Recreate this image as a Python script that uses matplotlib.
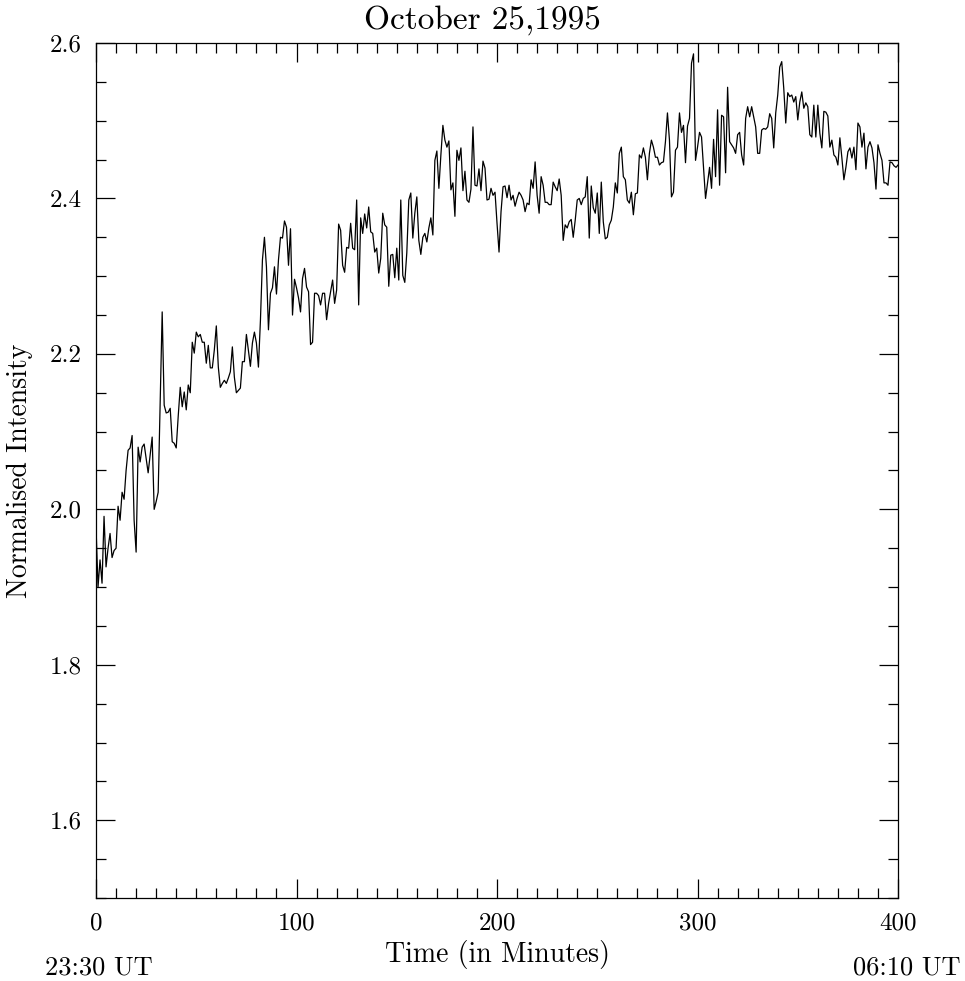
#!/usr/bin/env python3

import numpy as np
import matplotlib
matplotlib.use('Agg')
import matplotlib.pyplot as plt
from matplotlib.ticker import MultipleLocator, FormatStrFormatter

# normalised intensity, one sample per minute from 23:30 UT
intensity = [
    1.977, 1.900, 1.935, 1.905, 1.991, 1.926, 1.950, 1.969, 1.938, 1.947,
    1.950, 2.004, 1.986, 2.022, 2.013, 2.050, 2.076, 2.079, 2.095, 1.986,
    1.945, 2.080, 2.061, 2.080, 2.084, 2.065, 2.047, 2.070, 2.093, 2.000,
    2.010, 2.022, 2.140, 2.254, 2.134, 2.124, 2.125, 2.130, 2.087, 2.085,
    2.079, 2.120, 2.157, 2.132, 2.151, 2.128, 2.160, 2.150, 2.215, 2.201,
    2.228, 2.222, 2.225, 2.215, 2.215, 2.188, 2.211, 2.182, 2.182, 2.205,
    2.236, 2.183, 2.157, 2.162, 2.166, 2.162, 2.169, 2.177, 2.209, 2.170,
    2.150, 2.153, 2.156, 2.190, 2.190, 2.225, 2.205, 2.184, 2.214, 2.228,
    2.214, 2.183, 2.243, 2.321, 2.350, 2.312, 2.231, 2.278, 2.285, 2.312,
    2.277, 2.321, 2.350, 2.349, 2.371, 2.363, 2.314, 2.361, 2.250, 2.296,
    2.285, 2.272, 2.254, 2.297, 2.310, 2.286, 2.280, 2.212, 2.215, 2.278,
    2.278, 2.275, 2.263, 2.278, 2.278, 2.244, 2.265, 2.280, 2.295, 2.265,
    2.282, 2.367, 2.359, 2.314, 2.305, 2.337, 2.336, 2.368, 2.336, 2.334,
    2.398, 2.263, 2.375, 2.355, 2.380, 2.362, 2.389, 2.357, 2.355, 2.331,
    2.336, 2.304, 2.323, 2.381, 2.366, 2.363, 2.287, 2.327, 2.328, 2.298,
    2.336, 2.295, 2.398, 2.301, 2.292, 2.330, 2.398, 2.407, 2.349, 2.381,
    2.402, 2.346, 2.328, 2.350, 2.355, 2.344, 2.362, 2.375, 2.353, 2.449,
    2.461, 2.413, 2.456, 2.494, 2.475, 2.466, 2.474, 2.411, 2.420, 2.377,
    2.462, 2.449, 2.465, 2.410, 2.435, 2.398, 2.395, 2.412, 2.492, 2.417,
    2.416, 2.438, 2.410, 2.448, 2.439, 2.398, 2.399, 2.413, 2.404, 2.408,
    2.368, 2.331, 2.383, 2.415, 2.416, 2.401, 2.417, 2.398, 2.404, 2.390,
    2.400, 2.408, 2.404, 2.398, 2.383, 2.394, 2.392, 2.424, 2.413, 2.447,
    2.404, 2.381, 2.428, 2.417, 2.395, 2.395, 2.392, 2.392, 2.421, 2.415,
    2.410, 2.425, 2.404, 2.346, 2.366, 2.362, 2.370, 2.373, 2.350, 2.372,
    2.398, 2.400, 2.392, 2.400, 2.402, 2.428, 2.349, 2.416, 2.388, 2.381,
    2.407, 2.355, 2.421, 2.370, 2.348, 2.350, 2.366, 2.372, 2.389, 2.420,
    2.407, 2.458, 2.466, 2.428, 2.424, 2.398, 2.394, 2.408, 2.379, 2.406,
    2.407, 2.456, 2.452, 2.465, 2.453, 2.424, 2.458, 2.475, 2.466, 2.453,
    2.453, 2.443, 2.446, 2.447, 2.473, 2.510, 2.475, 2.402, 2.408, 2.462,
    2.466, 2.510, 2.485, 2.494, 2.446, 2.493, 2.503, 2.574, 2.586, 2.449,
    2.466, 2.485, 2.479, 2.440, 2.400, 2.420, 2.440, 2.413, 2.476, 2.428,
    2.514, 2.417, 2.507, 2.505, 2.433, 2.543, 2.473, 2.469, 2.465, 2.458,
    2.482, 2.485, 2.456, 2.443, 2.503, 2.518, 2.505, 2.518, 2.505, 2.492,
    2.458, 2.458, 2.488, 2.490, 2.489, 2.492, 2.509, 2.503, 2.465, 2.510,
    2.533, 2.569, 2.576, 2.542, 2.497, 2.536, 2.531, 2.533, 2.524, 2.531,
    2.501, 2.524, 2.537, 2.516, 2.523, 2.518, 2.482, 2.479, 2.520, 2.479,
    2.520, 2.484, 2.465, 2.512, 2.511, 2.506, 2.466, 2.475, 2.456, 2.453,
    2.443, 2.478, 2.452, 2.424, 2.440, 2.460, 2.465, 2.452, 2.466, 2.437,
    2.497, 2.492, 2.466, 2.484, 2.438, 2.466, 2.473, 2.465, 2.446, 2.412,
    2.469, 2.458, 2.449, 2.420, 2.420, 2.417, 2.447, 2.446, 2.442, 2.440,
    2.443,
]
minutes = np.arange(len(intensity))

title = 'October 25,1995'
start_label = '23:30 UT'
end_label = '06:10 UT'

plt.rcParams['font.family'] = ['cmr10', 'DejaVu Serif']
plt.rcParams['axes.formatter.use_mathtext'] = True


def main():
    fig = plt.figure(figsize=(9.65, 9.81), dpi=100)
    ax = fig.add_axes([0.0995, 0.0846, 0.8311, 0.8716])

    ax.plot(minutes, intensity, color='black', lw=0.9)

    ax.set_xlim(0, 400)
    ax.set_ylim(1.5, 2.6)
    ax.xaxis.set_major_locator(MultipleLocator(100))
    ax.xaxis.set_minor_locator(MultipleLocator(10))
    ax.yaxis.set_major_locator(MultipleLocator(0.2))
    ax.yaxis.set_minor_locator(MultipleLocator(0.05))
    ax.yaxis.set_major_formatter(FormatStrFormatter('%.1f'))
    ax.xaxis.set_major_formatter(FormatStrFormatter('%d'))

    ax.tick_params(which='both', direction='in', top=True, right=True,
                   width=0.9, labelsize=18)
    ax.tick_params(which='major', length=14, pad=10)
    ax.tick_params(which='minor', length=7)
    for sp in ax.spines.values():
        sp.set_linewidth(0.9)

    ax.set_xlabel('Time (in Minutes)', fontsize=20, labelpad=4)
    ax.set_ylabel('Normalised Intensity', fontsize=20, labelpad=12)
    fig.text(0.5, 0.9796, title, ha='center', va='center', fontsize=24)
    fig.text(0.047, 0.0133, start_label, ha='left', va='center', fontsize=19)
    fig.text(0.995, 0.0133, end_label, ha='right', va='center', fontsize=19)

    fig.savefig('out.png', dpi=100)


if __name__ == '__main__':
    main()
